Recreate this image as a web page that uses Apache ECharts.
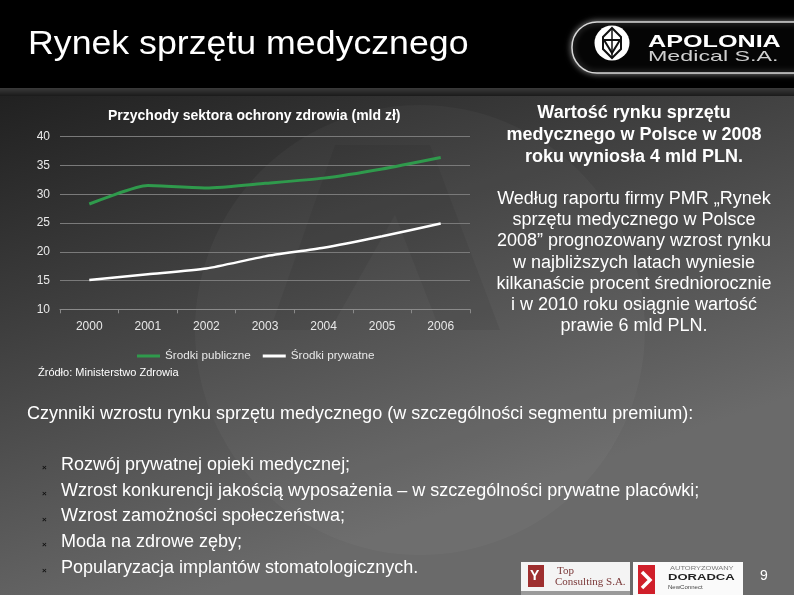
<!DOCTYPE html>
<html><head><meta charset="utf-8">
<script src="https://cdn.jsdelivr.net/npm/echarts@6/dist/echarts.min.js"></script>
<style>html,body{margin:0;padding:0;background:#000}#c{width:794px;height:595px}</style>
</head><body><div id="c"></div>
<script>
const years = ['2000','2001','2002','2003','2004','2005','2006'];
const publicFunds = [28.3, 31.5, 31.1, 31.9, 32.8, 34.4, 36.4];
const privateFunds = [15.1, 16.1, 17.1, 19.2, 20.7, 22.7, 24.9];
const seriesNames = ['Środki publiczne', 'Środki prywatne'];
const slideTitle = 'Rynek sprzętu medycznego';
const chartTitle = 'Przychody sektora ochrony zdrowia (mld zł)';
const sourceText = 'Źródło: Ministerstwo Zdrowia';
const boldNote = 'Wartość rynku sprzętu\nmedycznego w Polsce w 2008\nroku wyniosła 4 mld PLN.';
const note = 'Według raportu firmy PMR „Rynek\nsprzętu medycznego w Polsce\n2008” prognozowany wzrost rynku\nw najbliższych latach wyniesie\nkilkanaście procent średniorocznie\ni w 2010 roku osiągnie wartość\nprawie 6 mld PLN.';
const factorsTitle = 'Czynniki wzrostu rynku sprzętu medycznego (w szczególności segmentu premium):';
const bullets = [
  'Rozwój prywatnej opieki medycznej;',
  'Wzrost konkurencji jakością wyposażenia – w szczególności prywatne placówki;',
  'Wzrost zamożności społeczeństwa;',
  'Moda na zdrowe zęby;',
  'Popularyzacja implantów stomatologicznych.'
];

const F = 'Liberation Sans, Arial, sans-serif';
const chart = echarts.init(document.getElementById('c'));
const g = [];
function txt(x, y, text, size, opts) {
  opts = opts || {};
  return {type:'text', x:x, y:y, z:opts.z || 5, scaleX:opts.sx || 1, style:{text:text, fill:opts.fill || '#fff', fontSize:size,
    fontWeight:opts.bold ? 'bold' : 'normal', fontFamily:opts.family || F,
    textAlign:opts.align || 'left', textVerticalAlign:'top', lineHeight:opts.lh || size * 1.2}};
}
// backgrounds
g.push({type:'rect', z:-10, shape:{x:0,y:0,width:794,height:595}, style:{fill:{type:'linear',x:0,y:0,x2:0.25,y2:1,colorStops:[{offset:0,color:'#151515'},{offset:0.45,color:'#3a3a3a'},{offset:1,color:'#6a6a6a'}]}}});
g.push({type:'circle', z:-9, shape:{cx:420,cy:330,r:225}, style:{fill:'rgba(255,255,255,0.03)'}});
g.push({type:'polygon', z:-9, shape:{points:[[335,145],[430,145],[500,330],[440,330],[395,215],[330,330],[270,330]]}, style:{fill:'rgba(0,0,0,0.06)'}});
g.push({type:'rect', z:-8, shape:{x:0,y:0,width:794,height:88}, style:{fill:'#000'}});
g.push({type:'rect', z:-8, shape:{x:0,y:88,width:794,height:8}, style:{fill:{type:'linear',x:0,y:0,x2:0,y2:1,colorStops:[{offset:0,color:'#3a3a3a'},{offset:1,color:'#1a1a1a'}]}}});
// slide title
g.push(txt(28, 24, slideTitle, 34, {sx:1.05}));
// logo
g.push({type:'rect', z:2, shape:{x:572,y:22,width:240,height:51,r:[25,0,0,25]}, style:{stroke:'#d8d8d8', lineWidth:1.5, fill:'#050505', shadowBlur:6, shadowColor:'rgba(255,255,255,0.5)'}});
g.push({type:'circle', z:3, shape:{cx:612,cy:43,r:17.5}, style:{fill:'#fff'}});
g.push({type:'polygon', z:4, shape:{points:[[612,28],[621,37],[621,49],[612,58],[603,49],[603,37]]}, style:{fill:'none', stroke:'#111', lineWidth:2}});
g.push({type:'polyline', z:4, shape:{points:[[604,40],[620,40],[612,53],[604,40]]}, style:{stroke:'#111', lineWidth:2, fill:'none'}});
g.push({type:'line', z:4, shape:{x1:612,y1:28,x2:612,y2:58}, style:{stroke:'#111', lineWidth:1.5}});
g.push(txt(648, 32, 'APOLONIA', 17, {bold:true, sx:1.48}));
g.push(txt(648, 48, 'Medical S.A.', 15, {fill:'#cfcfcf', sx:1.55}));
// chart title & source
g.push(txt(108, 108, chartTitle, 14, {bold:true}));
g.push(txt(38, 366, sourceText, 11));
// right notes
g.push(txt(634, 102, boldNote, 18, {bold:true, align:'center', lh:22}));
g.push(txt(634, 188, note, 18, {align:'center', lh:21.3}));
// factors
g.push(txt(27, 403, factorsTitle, 18));
bullets.forEach((b,i)=>{
  const y = 454 + i*25.8;
  g.push(txt(42, y+9, '×', 8, {fill:'#111', bold:true}));
  g.push(txt(61, y, b, 18));
});
// bottom logos
g.push({type:'rect', shape:{x:521,y:562,width:109,height:33}, style:{fill:'#f4f4f4'}});
g.push({type:'rect', shape:{x:521,y:591,width:109,height:4}, style:{fill:'#9a9a9a'}});
g.push({type:'rect', shape:{x:528,y:565,width:16,height:22}, style:{fill:'#9e2f2f'}});
g.push(txt(530, 568, 'Y', 14, {bold:true}));
g.push(txt(557, 565, 'Top', 11, {fill:'#7a3838', family:'Liberation Serif, serif'}));
g.push(txt(555, 576, 'Consulting S.A.', 11, {fill:'#7a3838', family:'Liberation Serif, serif'}));
g.push({type:'rect', shape:{x:633,y:562,width:110,height:33}, style:{fill:'#fafafa'}});
g.push({type:'rect', shape:{x:638,y:565,width:17,height:29}, style:{fill:'#d01f2a'}});
g.push({type:'polyline', z:4, shape:{points:[[642,572],[650,580],[642,588]]}, style:{stroke:'#fff', lineWidth:3.5, fill:'none'}});
g.push(txt(670, 566, 'AUTORYZOWANY', 5, {fill:'#777', sx:1.5}));
g.push(txt(668, 572, 'DORADCA', 9, {fill:'#222', bold:true, sx:1.45}));
g.push(txt(668, 584, 'NewConnect', 5.5, {fill:'#444', sx:1.1}));
g.push(txt(760, 568, '9', 14));

chart.setOption({
  animation:false,
  backgroundColor:'transparent',
  graphic:g,
  grid:{left:60, right:324, top:136.7, bottom:285.7},
  legend:{left:132, top:345, itemWidth:23, itemHeight:3, itemGap:12, icon:'rect',
    textStyle:{color:'#e8e8e8', fontSize:11.7, fontFamily:F},
    data:seriesNames},
  xAxis:{type:'category', data:years, boundaryGap:true,
    axisLine:{show:true, lineStyle:{color:'#8a8a8a'}},
    axisTick:{show:true, length:4, lineStyle:{color:'#8a8a8a'}},
    axisLabel:{color:'#e8e8e8', fontSize:12, fontFamily:F, margin:11}},
  yAxis:{type:'value', min:10, max:40, interval:5,
    axisLine:{show:false}, axisTick:{show:false},
    splitLine:{lineStyle:{color:'#7a7a7a', width:1}},
    axisLabel:{color:'#e8e8e8', fontSize:12, fontFamily:F, margin:10}},
  series:[
    {name:seriesNames[0], type:'line', data:publicFunds, symbol:'none', smooth:0.2,
      lineStyle:{color:'#2f9a4c', width:3}, itemStyle:{color:'#2f9a4c'}},
    {name:seriesNames[1], type:'line', data:privateFunds, symbol:'none', smooth:0.2,
      lineStyle:{color:'#ffffff', width:2.5}, itemStyle:{color:'#ffffff'}}
  ]
});
</script></body></html>
